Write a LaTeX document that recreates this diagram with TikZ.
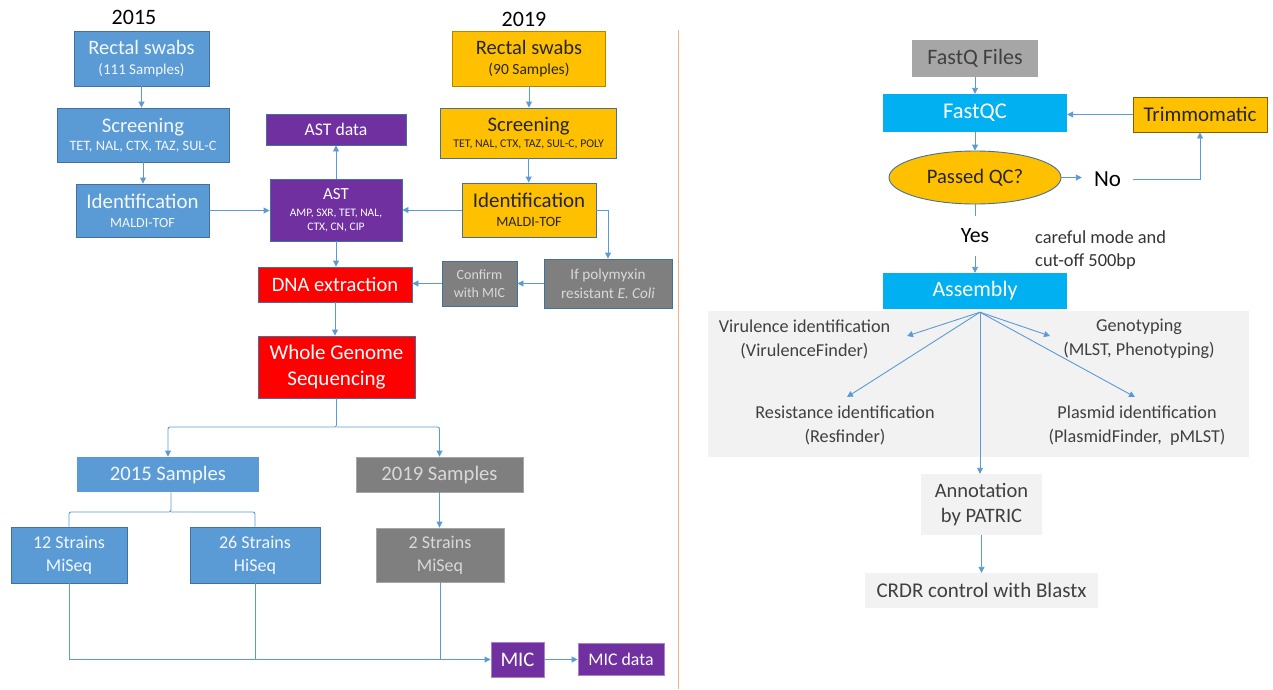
\documentclass[tikz,border=0pt]{standalone}
\usepackage{fontspec}
\setmainfont{Carlito}
\usetikzlibrary{shapes.geometric, arrows.meta, positioning, calc}
\definecolor{WGSBlue}{RGB}{91, 155, 213}
\definecolor{WGSBlueEdge}{RGB}{65, 113, 156}
\definecolor{WGSGold}{RGB}{255, 192, 0}
\definecolor{WGSGoldEdge}{RGB}{127, 96, 0}
\definecolor{WGSPurple}{RGB}{112, 48, 160}
\definecolor{WGSRed}{RGB}{255, 0, 0}
\definecolor{WGSGrey}{RGB}{127, 127, 127}
\definecolor{WGSSilver}{RGB}{166, 166, 166}
\definecolor{WGSCyan}{RGB}{0, 176, 240}
\definecolor{WGSPanel}{RGB}{242, 242, 242}
\definecolor{WGSText}{RGB}{64, 64, 64}
\definecolor{WGSLink}{RGB}{91, 155, 213}
\definecolor{WGSDivider}{RGB}{244, 177, 131}

\tikzset{
  flowbox/.style={draw=WGSBlueEdge, line width=0.9pt, inner sep=0pt, align=center},
  bluebox/.style={flowbox, fill=WGSBlue, text=white!92!WGSBlue},
  goldbox/.style={flowbox, fill=WGSGold, text=black!85},
  purplebox/.style={flowbox, fill=WGSPurple, text=white},
  redbox/.style={flowbox, fill=WGSRed, text=white},
  greybox/.style={flowbox, fill=WGSGrey, text=white!85!black},
  cyanbox/.style={inner sep=0pt, fill=WGSCyan, text=white, align=center},
  panelbox/.style={inner sep=0pt, fill=WGSPanel, text=WGSText, align=center},
  plaintext/.style={inner sep=0pt, text=WGSText, align=center},
  link/.style={draw=WGSLink, line width=0.9pt},
  linkarrow/.style={link, -{Triangle[length=6pt, width=6pt]}},
}

\begin{document}
\begin{tikzpicture}[x=1pt, y=-1pt]
  \path[use as bounding box] (0,0) rectangle (1273,689);

  % year headings
  \node[font=\fontsize{22}{24}\selectfont] (yr15) at (134,17) {2015};
  \node[font=\fontsize{22}{24}\selectfont] (yr19) at (524,19) {2019};

  % 2015 arm
  \node[bluebox, minimum width=135, minimum height=55, font=\fontsize{15}{20}\selectfont] (rs15) at (141.5,58.5)
    {{\fontsize{20.5}{20}\selectfont Rectal swabs}\\(111 Samples)};
  \node[bluebox, minimum width=172, minimum height=54, font=\fontsize{14.3}{18}\selectfont] (sc15) at (143,135)
    {{\fontsize{20.7}{18}\selectfont Screening}\\TET, NAL, CTX, TAZ, SUL-C};
  \node[bluebox, minimum width=133, minimum height=53, font=\fontsize{14}{19}\selectfont] (id15) at (142.5,210.5)
    {{\fontsize{20.9}{19}\selectfont Identification}\\MALDI-TOF};

  % AST
  \node[purplebox, minimum width=140, minimum height=31, font=\fontsize{17.7}{20}\selectfont] (astdata) at (336,129.5) {AST data};
  \node[purplebox, minimum width=132, minimum height=62, font=\fontsize{11.5}{14}\selectfont] (ast) at (336,210)
    {{\fontsize{17}{14}\selectfont AST}\\[2.5pt]AMP, SXR, TET, NAL,\\CTX, CN, CIP};

  % 2019 arm
  \node[goldbox, draw=WGSGoldEdge!60!WGSGold, minimum width=153, minimum height=55, font=\fontsize{15.5}{20}\selectfont] (rs19) at (529,58.5)
    {{\fontsize{20.5}{20}\selectfont Rectal swabs}\\(90 Samples)};
  \node[goldbox, minimum width=176, minimum height=50, font=\fontsize{11.8}{16}\selectfont] (sc19) at (528.7,133)
    {{\fontsize{20.7}{16}\selectfont Screening}\\TET, NAL, CTX, TAZ, SUL-C, POLY};
  \node[goldbox, minimum width=134, minimum height=54, font=\fontsize{14.2}{19}\selectfont] (id19) at (529,210)
    {{\fontsize{20.9}{19}\selectfont Identification}\\MALDI-TOF};
  \node[greybox, minimum width=128, minimum height=49, font=\fontsize{15.2}{19}\selectfont] (poly) at (608,283.5)
    {If polymyxin\\resistant \textit{E. Coli}};
  \node[greybox, minimum width=75, minimum height=45, font=\fontsize{14}{18}\selectfont] (confirm) at (479.5,283.5)
    {Confirm\\with MIC};

  % sequencing
  \node[redbox, minimum width=154, minimum height=35, font=\fontsize{20.5}{22}\selectfont] (dna) at (335,284.5) {DNA extraction};
  \node[redbox, minimum width=157, minimum height=62, font=\fontsize{21}{26}\selectfont] (wgs) at (336.5,367) {Whole Genome\\Sequencing};

  \node[bluebox, draw=none, minimum width=182, minimum height=35, font=\fontsize{20.6}{22}\selectfont] (s15) at (168,474.5) {2015 Samples};
  \node[greybox, draw=WGSGrey!70!white, minimum width=167, minimum height=35, font=\fontsize{20.6}{22}\selectfont] (s19) at (439.5,474.5) {2019 Samples};

  \node[bluebox, minimum width=116, minimum height=56, font=\fontsize{18}{23}\selectfont] (st12) at (69,555) {12 Strains\\MiSeq};
  \node[bluebox, minimum width=130, minimum height=56, font=\fontsize{18}{23}\selectfont] (st26) at (255,555) {26 Strains\\HiSeq};
  \node[greybox, draw=WGSGrey!70!white, minimum width=128, minimum height=54, font=\fontsize{18}{23}\selectfont] (st2) at (440,555) {2 Strains\\MiSeq};

  \node[purplebox, draw=WGSPurple!60!white, minimum width=53, minimum height=35, font=\fontsize{20.7}{22}\selectfont] (mic) at (517.5,659.5) {MIC};
  \node[purplebox, draw=WGSPurple!60!white, minimum width=86, minimum height=32, font=\fontsize{17.8}{20}\selectfont] (micdata) at (621,659) {MIC data};

  % left connectors
  \draw[linkarrow] (rs15.south) -- (rs15.south |- sc15.north);
  \draw[linkarrow] (sc15.south) -- (sc15.south |- id15.north);
  \draw[linkarrow] (id15.east) -- (id15.east -| ast.west);
  \draw[linkarrow] (rs19.south) -- (rs19.south |- sc19.north);
  \draw[linkarrow] (sc19.south) -- (sc19.south |- id19.north);
  \draw[linkarrow] (id19.west) -- (id19.west -| ast.east);
  \draw[linkarrow] (id19.east) -| (poly.north);
  \draw[linkarrow] (poly.west) -- (poly.west -| confirm.east);
  \draw[linkarrow] (confirm.west) -- (confirm.west -| dna.east);
  \draw[linkarrow] (ast.north) -- (ast.north |- astdata.south);
  \draw[linkarrow] (ast.south) -- (ast.south |- dna.north);
  \draw[linkarrow] (dna.south) -- (dna.south |- wgs.north);
  \coordinate (wgssplit) at (wgs.south |- 0,427);
  \draw[linkarrow, rounded corners=2pt] (wgs.south) -- (wgssplit) -| (s15.north);
  \draw[linkarrow, rounded corners=2pt] (wgssplit) -| (s19.north);
  \coordinate (s15split) at ([xshift=3pt]s15.south |- 0,512);
  \draw[link, rounded corners=2pt] ([xshift=3pt]s15.south) -- (s15split) -| (st12.north);
  \draw[link, rounded corners=2pt] (s15split) -| (st26.north);
  \draw[linkarrow] (s19.south) -- (s19.south |- st2.north);
  \draw[linkarrow] (st12.south) |- (mic.west);
  \draw[link] (st26.south) -- (st26.south |- mic.west);
  \draw[link] (st2.south) -- (st2.south |- mic.west);
  \draw[linkarrow] (mic.east) -- (mic.east -| micdata.west);

  % divider
  \draw[WGSDivider, line width=1pt] (678,30) -- (678,689);

  % pipeline
  \node[fill=WGSPanel, inner sep=0pt, minimum width=541, minimum height=146] (panel) at (978.5,384) {};
  \node[fill=WGSSilver, text=WGSText, inner sep=0pt, minimum width=126, minimum height=37, font=\fontsize{22}{24}\selectfont] (fastq) at (975,58.5) {FastQ Files};
  \node[cyanbox, minimum width=184, minimum height=38, font=\fontsize{22.5}{24}\selectfont] (fastqc) at (975,113) {FastQC};
  \node[goldbox, draw=WGSGoldEdge, minimum width=134, minimum height=35, font=\fontsize{21}{23}\selectfont] (trim) at (1200,114.5) {Trimmomatic};
  \node[ellipse, fill=WGSGold, draw=WGSBlueEdge, line width=0.9pt, inner sep=0pt, minimum width=172, minimum height=53,
        text=black!85, font=\fontsize{20.6}{22}\selectfont] (qc) at (975,177.5) {Passed QC?};
  \node[inner sep=0pt, minimum width=51, font=\fontsize{23}{25}\selectfont] (no) at (1107.5,179) {No};
  \node[inner sep=0pt, minimum height=40, font=\fontsize{21.8}{24}\selectfont] (yes) at (975,236) {Yes};
  \node[inner sep=0pt, anchor=west, align=left, text=black!80, font=\fontsize{18.4}{23.5}\selectfont] (careful) at (1035,250)
    {careful mode and\\cut-off 500bp};
  \node[cyanbox, minimum width=184, minimum height=36, font=\fontsize{22}{24}\selectfont] (asm) at (975,291) {Assembly};

  \node[plaintext, font=\fontsize{18.2}{24}\selectfont] (vir) at (804.5,339) {Virulence identification\\(VirulenceFinder)};
  \node[plaintext, font=\fontsize{18.2}{24}\selectfont] (geno) at (1139,339) {Genotyping\\(MLST, Phenotyping)};
  \node[plaintext, font=\fontsize{18.2}{24}\selectfont] (res) at (845,425.5) {Resistance identification\\(Resfinder)};
  \node[plaintext, font=\fontsize{18.2}{24}\selectfont] (plas) at (1137,425.5) {Plasmid identification\\(PlasmidFinder,~ pMLST)};

  \node[panelbox, minimum width=121, minimum height=61, font=\fontsize{20.5}{25}\selectfont] (annot) at (981.5,504.5) {Annotation\\by PATRIC};
  \node[panelbox, minimum width=233, minimum height=35, font=\fontsize{21}{23}\selectfont] (crdr) at (981.5,590.5) {CRDR control with Blastx};

  % right connectors
  \draw[linkarrow] (fastq.south) -- (fastq.south |- fastqc.north);
  \draw[linkarrow] (fastqc.south) -- (fastqc.south |- qc.north);
  \draw[linkarrow] (trim.west) -- (trim.west -| fastqc.east);
  \draw[linkarrow] (qc.east) -- (qc.east -| no.west);
  \draw[linkarrow] (no.east) -| (trim.south);
  \draw[link] (qc.south) -- (yes.north);
  \draw[linkarrow] (yes.south) -- (yes.south |- asm.north);
  \coordinate (hub) at ([xshift=5pt, yshift=-3pt]asm.south);
  \coordinate (virtip) at (907,336);
  \coordinate (restip) at (847,397);
  \coordinate (genotip) at (1050,336);
  \coordinate (plastip) at (1135,397);
  \draw[linkarrow] (hub) -- (virtip);
  \draw[linkarrow] (hub) -- (restip);
  \draw[linkarrow] (hub) -- (genotip);
  \draw[linkarrow] (hub) -- (plastip);
  \draw[linkarrow] (hub) -- (hub |- annot.north);
  \draw[linkarrow] (annot.south) -- (annot.south |- crdr.north);
\end{tikzpicture}
\end{document}
